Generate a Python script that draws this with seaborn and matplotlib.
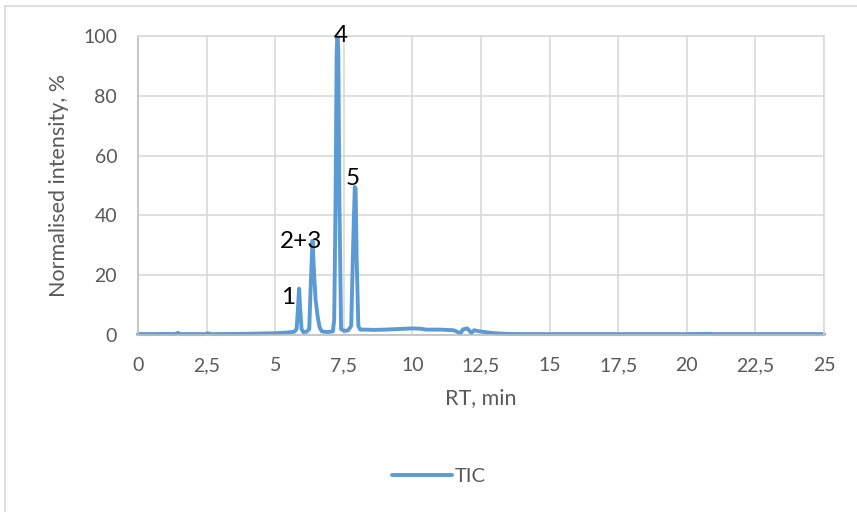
import matplotlib
matplotlib.use("Agg")
import matplotlib.pyplot as plt
from matplotlib.lines import Line2D
import seaborn as sns
import pandas as pd

# Total ion chromatogram: retention time (min) vs normalised intensity (%)
rt = [0.0, 0.5, 1.0, 1.35, 1.45, 1.55, 2.0, 2.45, 2.55, 2.65, 3.0, 3.5, 4.0,
      4.5, 5.0, 5.4, 5.7, 5.78, 5.83, 5.87, 5.91, 5.96, 6.02, 6.15, 6.24,
      6.3, 6.36, 6.42, 6.47, 6.55, 6.62, 6.7, 6.9, 7.1, 7.15, 7.2, 7.24,
      7.27, 7.3, 7.34, 7.4, 7.5, 7.65, 7.77, 7.84, 7.9, 7.93, 7.97, 8.03,
      8.1, 8.3, 8.6, 9.0, 9.5, 10.0, 10.3, 10.5, 11.0, 11.5, 11.75, 11.85,
      12.0, 12.15, 12.25, 12.4, 12.7, 13.0, 13.5, 14.0, 16.0, 18.0, 20.0,
      20.8, 21.0, 22.0, 24.0, 25.0]
intensity = [0.3, 0.3, 0.35, 0.3, 0.7, 0.3, 0.3, 0.3, 0.6, 0.3, 0.3, 0.35, 0.4,
             0.5, 0.6, 0.8, 1.1, 2.0, 9.0, 15.5, 9.0, 2.0, 1.0, 1.1, 2.0,
             18.0, 31.5, 20.0, 12.0, 6.0, 2.5, 1.2, 1.0, 1.2, 5.0, 45.0, 95.0,
             100.0, 95.0, 45.0, 2.0, 1.4, 1.5, 3.0, 30.0, 49.5, 49.0, 25.0, 3.0,
             1.8, 1.8, 1.7, 1.8, 2.0, 2.2, 2.1, 1.8, 1.8, 1.6, 0.6, 1.9,
             2.2, 0.7, 1.6, 1.3, 0.9, 0.6, 0.35, 0.3, 0.3, 0.3, 0.3,
             0.4, 0.3, 0.3, 0.3, 0.3]

# Peak labels: (text, RT, intensity)
peak_labels = ["1", "2+3", "4", "5"]
peak_label_rt = [5.47, 5.94, 7.40, 7.84]
peak_label_y = [12.7, 31.4, 100.0, 52.2]

x_ticks = [0, 2.5, 5, 7.5, 10, 12.5, 15, 17.5, 20, 22.5, 25]
x_tick_labels = ["0", "2,5", "5", "7,5", "10", "12,5", "15", "17,5", "20", "22,5", "25"]
y_ticks = [0, 20, 40, 60, 80, 100]

df = pd.DataFrame({"RT": rt, "Intensity": intensity})

sns.set_theme(style="white")
plt.rcParams["font.family"] = ["Lato", "DejaVu Sans"]

line_color = "#5B9BD5"
text_color = "#595959"
grid_color = "#D9D9D9"

fig = plt.figure(figsize=(8.57, 5.12), dpi=100)
ax = fig.add_axes([138 / 857, 1 - 335 / 512, (824 - 138) / 857, (335 - 36) / 512])

sns.lineplot(data=df, x="RT", y="Intensity", ax=ax, color=line_color,
             linewidth=2.8, sort=False, legend=False)

ax.set_xlim(0, 25)
ax.set_ylim(0, 100)
ax.set_xticks(x_ticks)
ax.set_xticklabels(x_tick_labels)
ax.set_yticks(y_ticks)
ax.grid(True, color=grid_color, linewidth=1.2)
ax.set_axisbelow(True)
for side, spine in ax.spines.items():
    spine.set_color(grid_color if side in ("top", "right") else "#BFBFBF")
    spine.set_linewidth(1.2)
ax.tick_params(axis="both", length=0, labelsize=14, labelcolor=text_color)
ax.tick_params(axis="x", pad=16)
ax.tick_params(axis="y", pad=15)
ax.set_xlabel("RT, min", fontsize=15.5, color=text_color, labelpad=10)
ax.set_ylabel("Normalised intensity, %", fontsize=15.5, color=text_color, labelpad=10)
for ln in ax.lines:
    ln.set_clip_on(False)

for lab, x, y in zip(peak_labels, peak_label_rt, peak_label_y):
    ax.text(x, y, lab, fontsize=17.5, color="black", ha="center", va="center")

handle = Line2D([], [], color=line_color, linewidth=2.8)
fig.legend([handle], ["TIC"], loc="center", bbox_to_anchor=(0.512, 1 - 476 / 512),
           frameon=False, fontsize=14.5, labelcolor=text_color,
           handlelength=3.0, handletextpad=0.1)

# Chart area border
fig.add_artist(Line2D([5 / 857, 5 / 857], [0, 1 - 6 / 512], transform=fig.transFigure,
                      color=grid_color, linewidth=1.2))
fig.add_artist(Line2D([5 / 857, 1], [1 - 6 / 512, 1 - 6 / 512], transform=fig.transFigure,
                      color=grid_color, linewidth=1.2))

fig.savefig("out.png", dpi=100, facecolor="white")
